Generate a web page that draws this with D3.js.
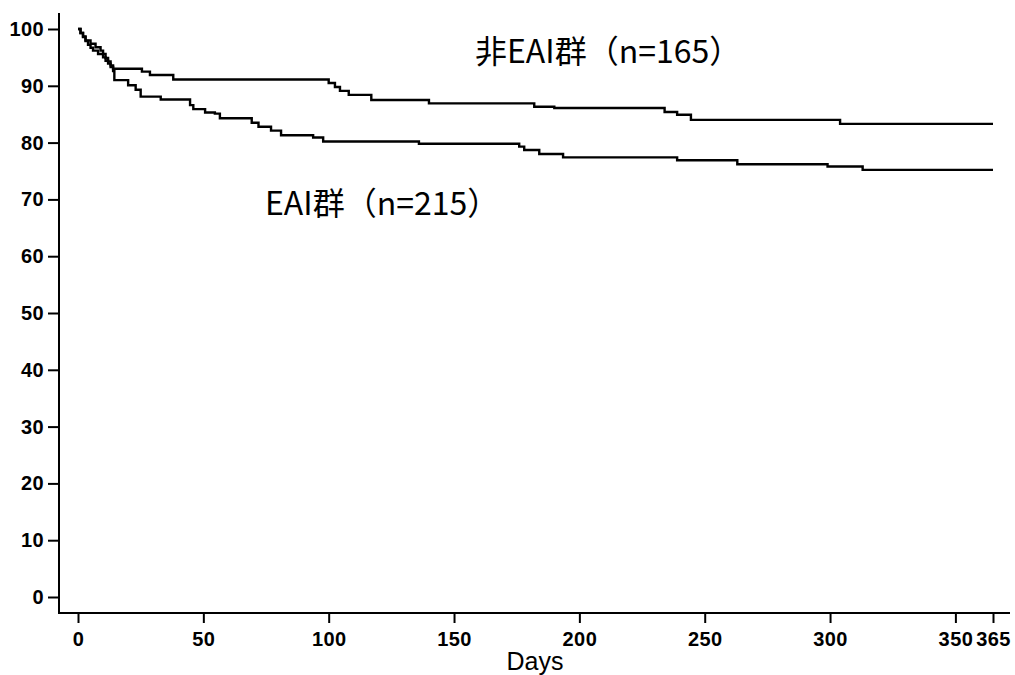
<html>
<script src='https://d3js.org/d3.v7.min.js'></script>
<style>
body {margin:0; background:#fff;}
.axis text {font-family:'Liberation Sans', Arial, sans-serif; font-size:20px; font-weight:bold; letter-spacing:0.4px; fill:#000;}
.axis line {stroke:#000; stroke-width:2;}
.lbl {font-family:'Noto Sans CJK JP', sans-serif; font-size:32px; fill:#000;}
</style>
<body>
<svg width=1015 height=675></svg>
<script>
// non-EAI group (n=165)
var nonDays = [0,1,2,3,5,7,9,10,11,12,13,14,25.5,28.7,38,100,102.5,104.5,108,117,140,182,190,234,239,244.5,304,365];
var nonVals = [100,99.3,98.7,98.0,97.4,96.8,96.2,95.6,94.9,94.3,93.6,93.0,92.5,91.9,91.1,90.5,89.8,89.1,88.4,87.5,86.9,86.3,86.1,85.4,84.9,84.0,83.3,83.3];
// EAI group (n=215)
var eaiDays = [0,1,2,3,4,5,6,8,10,11,12,13,14,14.5,20,23,25,33,44.7,46,50.7,54.6,56.6,69.3,72,77,81,93.8,97.8,136,176,178,184,193.5,239,263,299,313,365];
var eaiVals = [100,99.3,98.6,97.9,97.2,96.7,96.2,95.6,95.0,94.4,93.9,93.3,92.6,91.0,90.1,89.3,88.1,87.6,86.6,85.9,85.3,85.1,84.3,83.5,82.8,82.1,81.3,80.9,80.2,79.8,79.3,78.7,78.0,77.4,76.9,76.2,75.8,75.2,75.2];

var yTicks = [0,10,20,30,40,50,60,70,80,90,100];
var xTicks = [0,50,100,150,200,250,300,350,365];

var svg = d3.select('svg');
var xs = d3.scaleLinear().domain([0,365]).range([78,993]);
var ys = d3.scaleLinear().domain([0,100]).range([597,29]);

// axes lines
svg.append('line').attr('x1',59).attr('x2',59).attr('y1',13).attr('y2',614)
  .attr('stroke','#000').attr('stroke-width',2);
svg.append('line').attr('x1',58).attr('x2',1010).attr('y1',613).attr('y2',613)
  .attr('stroke','#000').attr('stroke-width',2);

var ax = svg.append('g').attr('class','axis').attr('transform','translate(59,0)')
  .call(d3.axisLeft(ys).tickValues(yTicks).tickSize(11).tickPadding(4));
ax.select('.domain').remove();

var bx = svg.append('g').attr('class','axis').attr('transform','translate(0,613)')
  .call(d3.axisBottom(xs).tickValues(xTicks).tickSize(10).tickPadding(9));
bx.select('.domain').remove();

svg.append('text').attr('x',535).attr('y',670)
  .attr('text-anchor','middle')
  .style('font-family',"'Liberation Sans', Arial, sans-serif").style('font-size','25px')
  .text('Days');

var line = d3.line().curve(d3.curveStepAfter)
  .x(function(d){return xs(d[0]);}).y(function(d){return ys(d[1]);});

function pts(days, vals){ return days.map(function(d,i){return [d, vals[i]];}); }

svg.append('path').datum(pts(nonDays,nonVals)).attr('d',line)
  .attr('fill','none').attr('stroke','#000').attr('stroke-width',2.4);
svg.append('path').datum(pts(eaiDays,eaiVals)).attr('d',line)
  .attr('fill','none').attr('stroke','#000').attr('stroke-width',2.4);

svg.append('text').attr('class','lbl').attr('x',475).attr('y',63).text('非EAI群（n=165）');
svg.append('text').attr('class','lbl').attr('x',265).attr('y',215).text('EAI群（n=215）');
</script>
</body>
</html>
